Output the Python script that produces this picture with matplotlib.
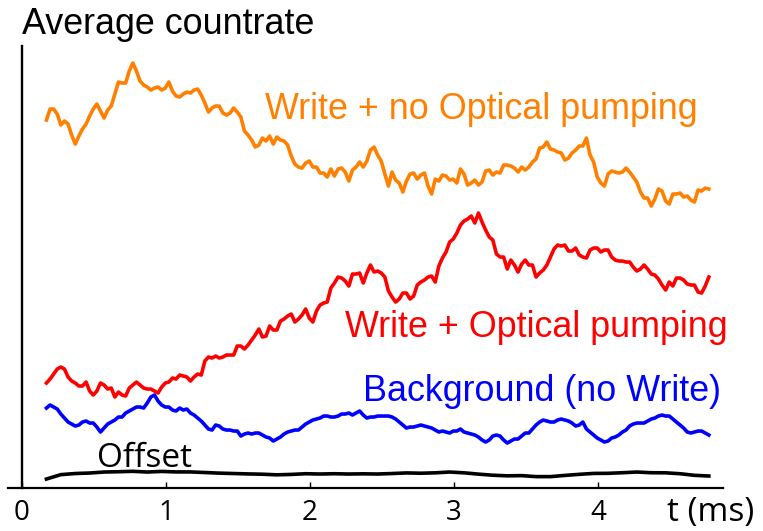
import matplotlib
matplotlib.use("Agg")
import matplotlib.pyplot as plt
import numpy as np

# time base of the averaged traces (ms)
t_ms = np.linspace(0.17, 4.77, 185)
t_offset = np.linspace(0.17, 4.77, 47)

# average countrate, arbitrary units
write_no_op = [
    367, 378, 378, 373, 362, 366, 363, 352, 343, 351,
    358, 363, 371, 378, 383, 376, 369, 377, 381, 393,
    405, 404, 404, 416, 424, 416, 406, 402, 400, 397,
    399, 400, 397, 399, 405, 396, 391, 390, 393, 395,
    394, 397, 398, 392, 384, 375, 379, 381, 381, 374,
    372, 374, 379, 375, 370, 356, 352, 347, 340, 342,
    349, 346, 351, 343, 350, 347, 346, 342, 331, 323,
    320, 319, 324, 326, 320, 320, 314, 314, 310, 318,
    311, 318, 319, 315, 306, 317, 320, 325, 320, 326,
    337, 340, 332, 326, 313, 301, 315, 307, 304, 295,
    306, 313, 314, 308, 312, 314, 301, 293, 308, 306,
    312, 311, 307, 308, 304, 318, 313, 302, 304, 307,
    302, 305, 316, 317, 312, 315, 314, 322, 322, 321,
    319, 315, 320, 317, 320, 325, 328, 339, 340, 345,
    338, 337, 335, 334, 327, 329, 334, 337, 341, 341,
    349, 332, 325, 310, 304, 301, 313, 316, 315, 314,
    315, 319, 315, 310, 305, 295, 289, 289, 281, 288,
    298, 296, 286, 283, 293, 293, 294, 290, 291, 287,
    285, 297, 296, 299, 298,
]
write_op = [
    104, 108, 113, 118, 120, 118, 110, 106, 104, 101,
    101, 105, 96, 92, 96, 104, 102, 98, 99, 90,
    95, 92, 91, 99, 102, 105, 102, 99, 98, 98,
    96, 94, 100, 104, 105, 109, 108, 112, 111, 110,
    106, 110, 113, 112, 126, 130, 129, 131, 129, 130,
    132, 132, 132, 141, 141, 138, 142, 147, 152, 158,
    150, 151, 161, 157, 157, 166, 168, 171, 173, 165,
    168, 172, 178, 169, 165, 176, 182, 184, 185, 199,
    204, 210, 209, 206, 201, 213, 213, 214, 204, 214,
    222, 215, 216, 214, 210, 196, 190, 185, 188, 194,
    194, 188, 191, 202, 205, 207, 210, 211, 205, 221,
    229, 235, 245, 248, 254, 262, 266, 268, 271, 264,
    274, 265, 257, 250, 247, 233, 230, 230, 218, 227,
    222, 215, 223, 227, 222, 222, 210, 214, 217, 222,
    230, 238, 242, 241, 242, 236, 236, 239, 232, 230,
    229, 237, 239, 239, 235, 237, 237, 230, 227, 226,
    226, 225, 225, 220, 216, 218, 222, 218, 213, 212,
    208, 202, 197, 205, 201, 209, 209, 207, 203, 202,
    202, 195, 194, 201, 210,
]
background = [
    79, 82, 80, 78, 73, 69, 65, 63, 61, 62,
    65, 66, 64, 64, 60, 55, 59, 63, 65, 67,
    70, 70, 74, 76, 78, 80, 80, 79, 84, 90,
    92, 86, 82, 80, 80, 77, 76, 79, 77, 78,
    74, 72, 69, 66, 62, 58, 57, 62, 61, 58,
    57, 57, 56, 56, 51, 53, 54, 53, 54, 54,
    52, 50, 49, 46, 48, 50, 53, 55, 56, 57,
    57, 60, 63, 65, 67, 68, 69, 71, 71, 70,
    70, 71, 73, 73, 74, 72, 74, 76, 72, 69,
    70, 70, 71, 71, 71, 71, 70, 68, 65, 62,
    59, 60, 60, 61, 62, 61, 60, 59, 57, 55,
    56, 55, 54, 56, 56, 58, 55, 54, 53, 52,
    50, 47, 45, 47, 51, 52, 51, 47, 44, 46,
    48, 48, 51, 54, 54, 58, 62, 65, 67, 66,
    65, 65, 67, 68, 67, 66, 64, 61, 62, 65,
    58, 55, 52, 49, 47, 45, 46, 49, 50, 52,
    55, 57, 61, 63, 64, 64, 64, 66, 68, 69,
    71, 72, 71, 71, 68, 65, 62, 59, 55, 54,
    55, 56, 56, 54, 52,
]
offset = [
    8.0, 12.4, 13.5, 14.0, 15.0, 15.3, 15.7, 15.0, 15.6, 15.1,
    15.1, 14.5, 13.9, 13.5, 13.1, 12.8, 12.2, 12.6, 13.3, 13.0,
    13.3, 13.0, 13.2, 13.0, 13.5, 14.1, 13.8, 14.2, 15.0, 14.2,
    12.9, 11.8, 11.2, 11.4, 10.4, 10.4, 11.6, 12.7, 13.6, 13.7,
    14.3, 15.0, 14.3, 14.2, 13.3, 11.7, 11.0,
]

ORANGE = "#FF8000"
RED = "#FF0000"
BLUE = "#0000FF"

arial = "Liberation Sans"
humanist = "Open Sans"

fig = plt.figure(figsize=(7.63, 5.31), dpi=100)
ax = fig.add_axes([0.0105, 0.0815, 0.937, 0.8318])

lw = 2.6
ax.plot(t_ms, write_no_op, color=ORANGE, lw=lw)
ax.plot(t_ms, write_op, color=RED, lw=lw)
ax.plot(t_ms, background, color=BLUE, lw=lw)
ax.plot(t_offset, offset, color="black", lw=lw)

ax.set_xlim(-0.097, 4.868)
ax.set_ylim(-0.7, 441)

# axes: plain left and bottom lines, the y line sitting at t = 0
for side in ("top", "right"):
    ax.spines[side].set_visible(False)
ax.spines["left"].set_position(("data", 0))
ax.spines["left"].set_linewidth(1.7)
ax.spines["bottom"].set_linewidth(1.6)

ax.set_yticks([])
ax.set_xticks([0, 1, 2, 3, 4])
ax.tick_params(axis="x", direction="in", length=4, width=1.0, pad=8,
               labelsize=20)
for lab in ax.get_xticklabels():
    lab.set_fontfamily(humanist)

# labels
fig.text(22 / 763, 1 - 34 / 531, "Average countrate", fontsize=25.8,
         family=arial, va="baseline", ha="left")
fig.text(667 / 763, 1 - 512 / 531, "t (ms)", fontsize=24,
         family=humanist, va="center", ha="left")

ax.text(1.6875, 368, "Write + no Optical pumping", color=ORANGE,
        fontsize=25.8, family=arial, va="baseline", ha="left")
ax.text(2.243, 150, "Write + Optical pumping", color=RED,
        fontsize=25.8, family=arial, va="baseline", ha="left")
ax.text(2.368, 86, "Background (no Write)", color=BLUE,
        fontsize=25.8, family=arial, va="baseline", ha="left")
ax.text(0.521, 20.3, "Offset", color="black",
        fontsize=24, family=humanist, va="baseline", ha="left")

fig.savefig("out.png", dpi=100)
